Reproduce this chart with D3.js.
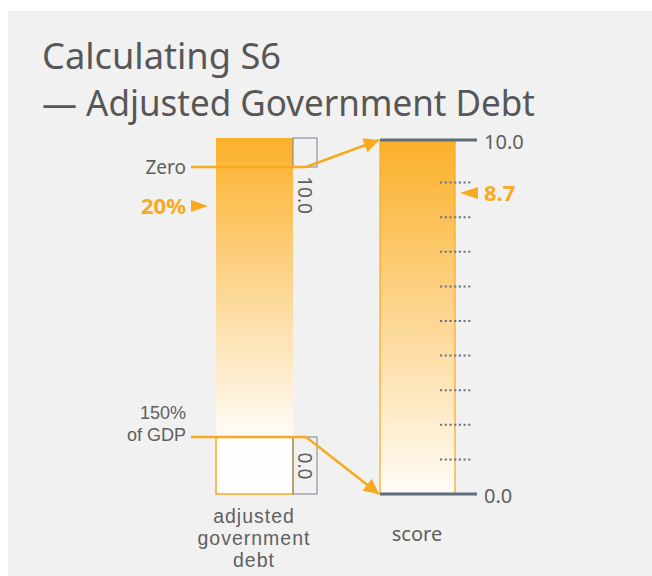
<!DOCTYPE html>
<html>
<head>
<meta charset="utf-8">
<script src="https://cdn.jsdelivr.net/npm/d3@7"></script>
<style>
  html, body { margin: 0; padding: 0; background: #fff; }
  svg { display: block; }
  text { font-family: "Noto Sans", "Open Sans", sans-serif; }
  text.tight { font-family: "Liberation Sans", Arial, sans-serif; }
</style>
</head>
<body>
<script>
// ---- data ----
const titleLines = ["Calculating S6", "— Adjusted Government Debt"];
const debtDomain = [0, 150];                 // % of GDP
const debtEndLabels = [["Zero"], ["150%", "of GDP"]];
const debtMarker = 20;
const debtMarkerLabel = "20%";
const scoreDomain = [0, 10];
const scoreTicks = [1, 2, 3, 4, 5, 6, 7, 8, 9];
const scoreEnds = [10, 0];
const scoreMarker = 8.7;
const bracketLabels = ["10.0", "0.0"];
const barCaptions = [["adjusted", "government", "debt"], ["score"]];

// ---- layout ----
const W = 652, H = 576;
const orange = "#f9a91e";
const grey = "#5f6e7b";
const textGrey = "#606060";

const svg = d3.select("body").append("svg").attr("width", W).attr("height", H);
svg.append("rect").attr("x", 8).attr("y", 11).attr("width", W - 8).attr("height", H - 11).attr("fill", "#f1f1f1");

const defs = svg.append("defs");
function grad(id, y1, y2) {
  const g = defs.append("linearGradient").attr("id", id)
    .attr("gradientUnits", "userSpaceOnUse").attr("x1", 0).attr("x2", 0).attr("y1", y1).attr("y2", y2);
  g.append("stop").attr("offset", 0).attr("stop-color", "#fbb02a");
  g.append("stop").attr("offset", 1).attr("stop-color", "#fffcf8");
}
const mk = defs.append("marker").attr("id", "arr").attr("viewBox", "0 0 10 10")
  .attr("refX", 10).attr("refY", 5).attr("markerWidth", 7.5).attr("markerHeight", 6)
  .attr("markerUnits", "strokeWidth").attr("orient", "auto");
mk.append("path").attr("d", "M0,0 L10,5 L0,10 Z").attr("fill", orange);

// title
const titleWidths = [239, 493];
svg.append("g").selectAll("text").data(titleLines).join("text")
  .attr("x", 42).attr("y", (d, i) => 69 + i * 47)
  .attr("font-size", 36).attr("fill", "#575757")
  .attr("textLength", (d, i) => titleWidths[i]).attr("lengthAdjust", "spacingAndGlyphs")
  .text(d => d);

// scales
const yDebt = d3.scaleLinear().domain(debtDomain).range([167, 437]);
const yScore = d3.scaleLinear().domain(scoreDomain).range([494, 148]);

// left bar
const lx0 = 216, lx1 = 293, lTop = 138, lBot = 494;
grad("gL", lTop, yDebt(debtDomain[1]));
grad("gR", 140, 494);
svg.append("rect").attr("x", lx0).attr("y", lTop).attr("width", lx1 - lx0)
  .attr("height", yDebt(debtDomain[1]) - lTop).attr("fill", "url(#gL)");
svg.append("rect").attr("x", lx0).attr("y", yDebt(debtDomain[1])).attr("width", lx1 - lx0)
  .attr("height", lBot - yDebt(debtDomain[1])).attr("fill", "#fefefe")
  .attr("stroke", orange).attr("stroke-width", 1.5);

// brackets
const bx0 = 293, bx1 = 317;
const brackets = [
  { y0: lTop, y1: yDebt(debtDomain[0]) },
  { y0: yDebt(debtDomain[1]), y1: lBot }
];
brackets.forEach(b => {
  svg.append("rect").attr("x", bx0).attr("y", b.y0).attr("width", bx1 - bx0).attr("height", b.y1 - b.y0)
    .attr("fill", "none").attr("stroke", "#76828d").attr("stroke-width", 1);
});
svg.append("text").attr("transform", `translate(298,195) rotate(90)`)
  .attr("text-anchor", "middle").attr("font-size", 19).attr("fill", textGrey).text(bracketLabels[0]);
svg.append("text").attr("transform", `translate(298,466) rotate(90)`)
  .attr("text-anchor", "middle").attr("font-size", 19).attr("fill", textGrey).text(bracketLabels[1]);

// right bar
const rx0 = 380, rx1 = 455, rTop = 140, rBot = yScore(0);
svg.append("rect").attr("x", rx0).attr("y", rTop).attr("width", rx1 - rx0).attr("height", rBot - rTop)
  .attr("fill", "url(#gR)").attr("stroke", orange).attr("stroke-width", 1.2);

// connector lines
const ends = [
  { yL: yDebt(debtDomain[0]), yR: rTop },
  { yL: yDebt(debtDomain[1]), yR: rBot }
];
ends.forEach(e => {
  svg.append("line").attr("x1", 191).attr("x2", 306).attr("y1", e.yL).attr("y2", e.yL)
    .attr("stroke", orange).attr("stroke-width", 2.5);
  svg.append("line").attr("x1", 306).attr("y1", e.yL).attr("x2", rx0 - 1).attr("y2", e.yR)
    .attr("stroke", orange).attr("stroke-width", 2.5).attr("marker-end", "url(#arr)");
});

// left labels
svg.append("text").attr("x", 186).attr("y", yDebt(debtDomain[0]) + 7).attr("text-anchor", "end")
  .attr("font-size", 19).attr("fill", textGrey).text(debtEndLabels[0][0]);
svg.append("g").selectAll("text").data(debtEndLabels[1]).join("text")
  .attr("class", "tight")
  .attr("x", 186).attr("y", (d, i) => yDebt(debtDomain[1]) - 18 + i * 21.5).attr("text-anchor", "end")
  .attr("font-size", 18).attr("fill", textGrey).text(d => d);

// 20% marker
const ym = yDebt(debtMarker) + 3;
svg.append("path").attr("d", `M191,${ym - 6} L208,${ym} L191,${ym + 6} Z`).attr("fill", orange);
svg.append("text").attr("x", 186).attr("y", ym + 8).attr("text-anchor", "end")
  .attr("font-size", 22).attr("font-weight", "bold").attr("fill", orange).text(debtMarkerLabel);

// score end lines and labels
scoreEnds.forEach(v => {
  const y = v === 0 ? rBot : rTop;
  svg.append("line").attr("x1", rx0).attr("x2", 477).attr("y1", y).attr("y2", y)
    .attr("stroke", grey).attr("stroke-width", 3);
  svg.append("text").attr("x", 484).attr("y", y + 9).attr("font-size", 20).attr("fill", textGrey)
    .text(d3.format(".1f")(v));
});

// dotted ticks
svg.append("g").selectAll("line").data(scoreTicks).join("line")
  .attr("x1", 440).attr("x2", 472).attr("y1", d => yScore(d)).attr("y2", d => yScore(d))
  .attr("stroke", "#6a7782").attr("stroke-width", 2).attr("stroke-dasharray", "2.2,2.5");

// 8.7 marker
const ys = yScore(scoreMarker);
svg.append("path").attr("d", `M478,${ys - 6} L460,${ys} L478,${ys + 6} Z`).attr("fill", orange);
svg.append("text").attr("x", 484).attr("y", ys + 8).attr("font-size", 22).attr("font-weight", "bold")
  .attr("fill", orange).text(d3.format(".1f")(scoreMarker));

// captions
svg.append("g").selectAll("text").data(barCaptions[0]).join("text")
  .attr("class", "tight")
  .attr("x", 254).attr("y", (d, i) => 523 + i * 22).attr("text-anchor", "middle")
  .attr("font-size", 19.5).attr("letter-spacing", 1).attr("fill", textGrey).text(d => d);
svg.append("text").attr("x", 417).attr("y", 541).attr("text-anchor", "middle")
  .attr("font-size", 20).attr("fill", textGrey).text(barCaptions[1][0]);
</script>
</body>
</html>
